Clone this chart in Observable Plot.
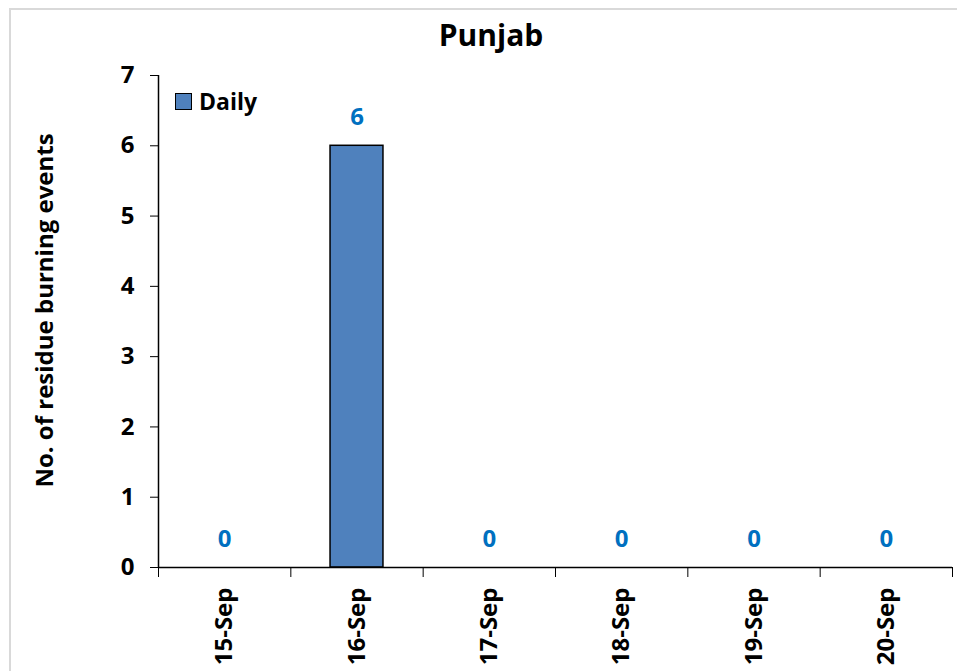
<!DOCTYPE html>
<html>
<head>
<meta charset="utf-8">
<script src="https://cdn.jsdelivr.net/npm/d3@7"></script>
<script src="https://cdn.jsdelivr.net/npm/@observablehq/plot@0.6"></script>
<style>
  html, body { margin: 0; padding: 0; background: #fff; overflow: hidden; }
  #wrap { position: relative; width: 957px; height: 671px; font-family: "Open Sans", Lato, sans-serif; font-weight: bold; }
  #frame { position: absolute; left: 9px; top: 8px; width: 1000px; height: 700px; border: 2px solid #d9d9d9; box-sizing: border-box; }
  #title { position: absolute; left: 0; width: 982px; top: 14px; text-align: center; font-size: 30px; color: #000; }
  #legend { position: absolute; left: 175px; top: 85px; display: flex; align-items: center; font-size: 23px; color: #000; }
  #legend .sw { width: 15px; height: 15px; background: #4F81BD; border: 1.5px solid #000; margin-right: 7px; }
  #chart { position: absolute; left: 0; top: 0; }
</style>
</head>
<body>
<div id="wrap">
  <div id="frame"></div>
  <div id="chart"></div>
  <div id="title">Punjab</div>
  <div id="legend"><div class="sw"></div><span>Daily</span></div>
</div>
<script>
const dates = ["15-Sep", "16-Sep", "17-Sep", "18-Sep", "19-Sep", "20-Sep"];
const daily = [0, 6, 0, 0, 0, 0];
const yTicks = [0, 1, 2, 3, 4, 5, 6, 7];
const yLabel = "No. of residue burning events";

const data = dates.map((d, i) => ({date: d, i, value: daily[i]}));
const boundaries = d3.range(dates.length + 1);

const chart = Plot.plot({
  width: 957,
  height: 671,
  marginLeft: 158,
  marginRight: 5,
  marginTop: 75,
  marginBottom: 104,
  style: {fontFamily: "'Open Sans', Lato, sans-serif", fontWeight: "bold", fontSize: "24px", color: "#000", background: "transparent", overflow: "visible"},
  x: {type: "linear", domain: [0, dates.length], ticks: boundaries, tickFormat: () => "", tickSize: 10, label: null},
  y: {domain: [0, 7], ticks: yTicks, tickFormat: d => String(d), tickSize: 8, tickPadding: 16, label: null},
  marks: [
    Plot.rectY(data, {x1: d => d.i + 0.3, x2: d => d.i + 0.7, y: "value", fill: "#4F81BD", stroke: "#000", strokeWidth: 1.5}),
    Plot.ruleY([0], {stroke: "#000", strokeWidth: 1.5}),
    Plot.ruleX([0], {stroke: "#000", strokeWidth: 1.5}),
    Plot.text(data, {x: d => d.i + 0.5, y: "value", text: d => String(d.value), dy: -28, fill: "#0070C0", fontSize: 24, fontWeight: "bold"}),
    Plot.text(data, {x: d => d.i + 0.5, y: 0, text: "date", rotate: -90, textAnchor: "end", dy: 20, fill: "#000", fontSize: 24, fontWeight: "bold"}),
    Plot.text([yLabel], {frameAnchor: "left", textAnchor: "middle", rotate: -90, dx: -113, dy: -11, fill: "#000", fontSize: 24, fontWeight: "bold"})
  ]
});
document.getElementById("chart").appendChild(chart);
</script>
</body>
</html>
